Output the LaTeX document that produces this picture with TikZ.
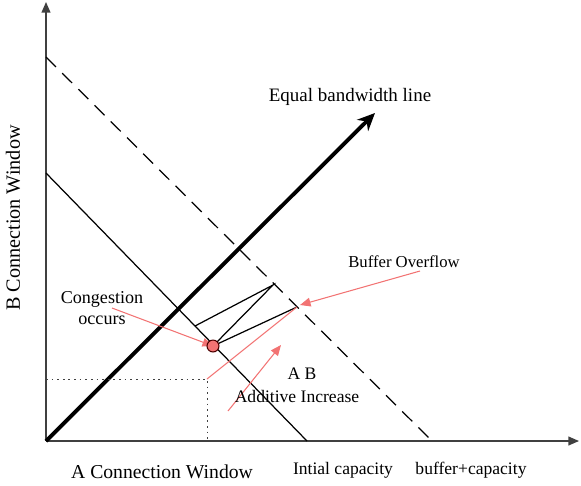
\documentclass[tikz,border=0pt]{standalone}
\usepackage{fontspec}
\setmainfont{Liberation Serif}
\usetikzlibrary{arrows.meta, positioning, calc}
\definecolor{SalmonRed}{rgb}{0.95, 0.45, 0.45}
\definecolor{AxisGray}{rgb}{0.25, 0.25, 0.25}

\begin{document}
\begin{tikzpicture}[>=Stealth, x=0.02cm, y=-0.02cm,
    axis/.style={line width=0.8pt, AxisGray, -{Triangle[length=6pt, width=5pt]}},
    capline/.style={line width=0.7pt},
    pointer/.style={SalmonRed, line width=0.6pt, -{Triangle[length=6pt, width=5pt]}},
    lbl/.style={inner sep=0pt, font=\fontsize{10}{12}\selectfont}]
        \useasboundingbox (0,0) rectangle (581,485);

        % Axes
        \coordinate (O) at (46,441);
        \coordinate (xend) at (579,441);
        \coordinate (yend) at (46,2);
        \draw[axis] (O) -- (xend);
        \draw[axis] (O) -- (yend);

        % Capacity lines
        \coordinate (capB) at (46,173);
        \coordinate (capA) at (307,441);
        \coordinate (bufB) at (46,57);
        \coordinate (bufA) at (432,441);
        \draw[capline] (capB) -- (capA);
        \draw[capline, dash pattern=on 8pt off 5pt] (bufB) -- (bufA);

        % Equal bandwidth line
        \coordinate (eqtip) at (375,113);
        \draw[line width=2.2pt, -{Stealth[length=10pt, width=9pt]}] (O) -- (eqtip);

        % Window evolution
        \coordinate (cong) at (213,346);
        \coordinate (peak1) at (273,285);
        \coordinate (drop1) at (195,326);
        \coordinate (peak2) at (297,307);
        \draw[capline] (drop1) -- (peak1) -- (cong) -- (peak2);

        % Dotted start point
        \coordinate (dotB) at (46,379);
        \coordinate (corner) at (207,379);
        \coordinate (dotA) at (207,441);
        \draw[black!75, line width=0.5pt, dash pattern=on 1pt off 2.2pt] (dotB) -- (corner) -- (dotA);

        % Red pointers
        \draw[SalmonRed, line width=0.6pt] (corner) -- (peak2);
        \coordinate (aifrom) at (228,411);
        \coordinate (aito) at (281,345);
        \draw[pointer] (aifrom) -- (aito);
        \coordinate (congfrom) at (112,308);
        \draw[pointer] (congfrom) -- (cong);
        \coordinate (buffrom) at (420,271);
        \coordinate (bufto) at (300,305);
        \draw[pointer] (buffrom) -- (bufto);
        \node[circle, fill=SalmonRed, draw=black!70!red, line width=0.6pt, inner sep=0pt, minimum size=6.8pt] (congdot) at (cong) {};

        % Labels
        \node[lbl, font=\fontsize{10.8}{13}\selectfont] (eqlabel) at (350,97) {Equal bandwidth line};
        \node[lbl, align=center, font=\fontsize{10.3}{12}\selectfont] (conglabel) at (102,308) {Congestion\\occurs};
        \node[lbl, font=\fontsize{9.5}{11}\selectfont] (buflabel) at (404,262) {Buffer Overflow};
        \node[lbl] (ablabel) at (302,374) {A B};
        \node[lbl] (ailabel) at (297,396) {Additive Increase};
        \node[lbl] (initlabel) at (343,470) {Intial capacity};
        \node[lbl] (bufcaplabel) at (471,470) {buffer+capacity};
        \node[lbl, font=\fontsize{11.2}{13}\selectfont] (alabel) at (162,472) {A Connection Window};
        \node[lbl, rotate=90, font=\fontsize{11.5}{13}\selectfont] (blabel) at (13,218) {B Connection Window};
    \end{tikzpicture}
\end{document}
